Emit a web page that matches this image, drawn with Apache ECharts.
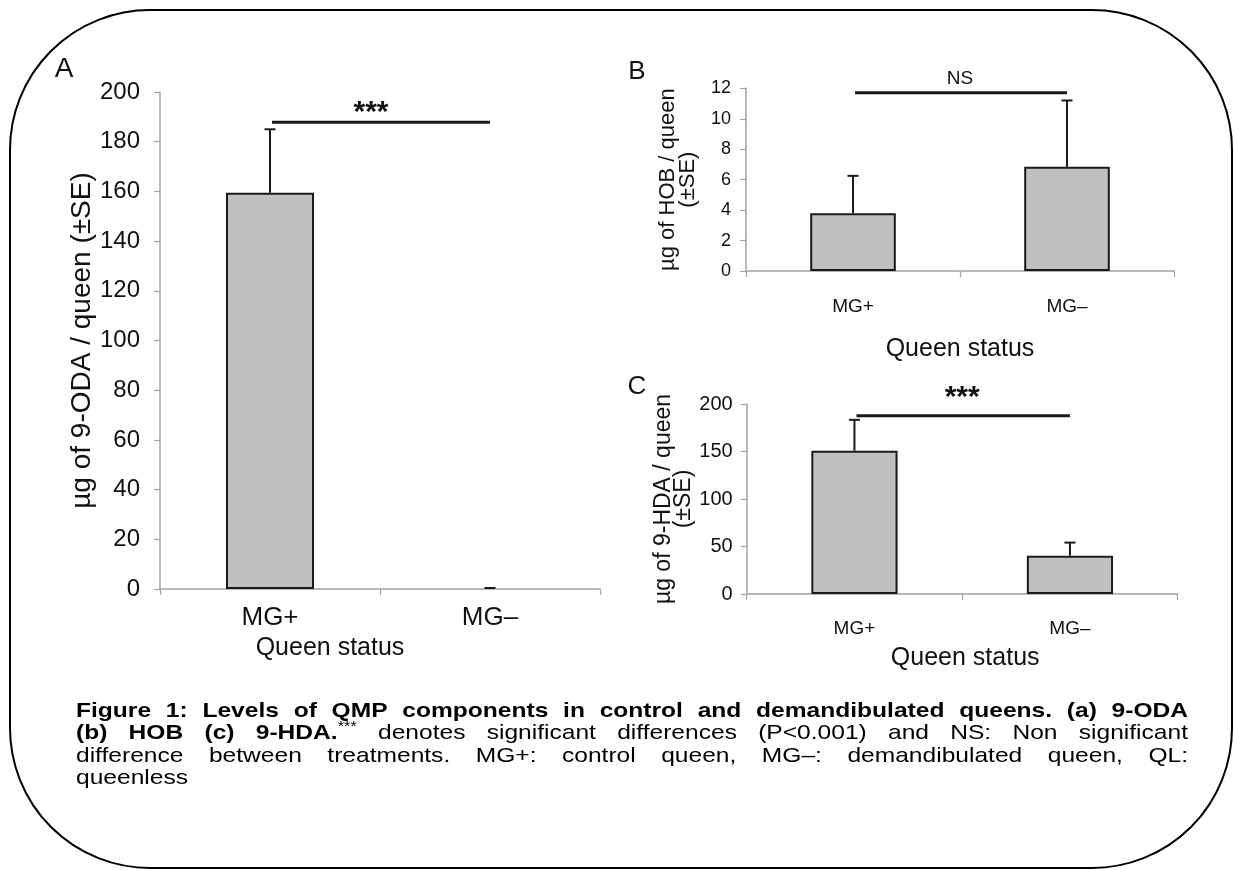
<!DOCTYPE html>
<html><head><meta charset="utf-8">
<script src="https://cdn.jsdelivr.net/npm/echarts@6/dist/echarts.min.js"></script>
<style>html,body{margin:0;padding:0;background:#fff}#c{width:1233px;height:870px}</style>
</head><body><div id="c"></div>
<script>
// ---------- data ----------
const categories = ['MG+', 'MG–'];
const odaMean = [159.5, 0];
const odaSE = [25.5, 0.4];
const hobMean = [3.8, 6.85];
const hobSE = [2.45, 4.35];
const hdaMean = [150.8, 40.3];
const hdaSE = [32.5, 13.8];
const odaAxis = { min: 0, max: 200, interval: 20 };
const hobAxis = { min: 0, max: 12, interval: 2 };
const hdaAxis = { min: 0, max: 200, interval: 50 };
const sigLabels = ['***', 'NS', '***'];
const sigLevels = [187.8, 11.7, 187.7];
const panelLetters = ['A', 'B', 'C'];
const yNames = ['µg of 9-ODA / queen (±SE)', 'µg of HOB / queen\n(±SE)', 'µg of 9-HDA / queen\n(±SE)'];
const xName = 'Queen status';
const captionLine1 = [{ t: 'Figure 1: Levels of QMP components in control and demandibulated queens. (a) 9-ODA', b: true }];
const captionLine2 = [{ t: '(b) HOB (c) 9-HDA.', b: true }, { t: '***', sup: true }, { t: ' denotes significant differences (P<0.001) and NS: Non significant' }];
const captionLine3 = [{ t: 'difference between treatments. MG+: control queen, MG–: demandibulated queen, QL:' }];
const captionLine4 = [{ t: 'queenless' }];

// ---------- styling ----------
const FONT = '"Liberation Sans", Arial, Helvetica, sans-serif';
const AXIS_GRAY = '#a3a3a3';
const BAR_FILL = '#c0c0c0';
const INK = '#1a1a1a';

const grids = [
  { left: 160, top: 92, width: 440, height: 497 },
  { left: 746, top: 88.3, width: 428, height: 182.7 },
  { left: 746.7, top: 404, width: 431, height: 190 }
];
const tickFont = [24, 18, 20];
const catFont = [26, 19, 19];
const catMargin = [16, 26, 25];
const yLabelMargin = [20, 15, 14];
const yNameFont = [28, 22, 23];
const yNameGap = [62, 48, 52];
const xNameFont = [25, 25, 25];
const xNameGap = [40, 66, 52];
const xNamePad = [[0, 100, 0, 0], [0, 0, 0, 0], [0, 0, 0, 6]];
const sigFont = ['bold 30px ' + FONT, '19px ' + FONT, 'bold 30px ' + FONT];
const sigTextDy = [5, -4.7, -2.7];
const sigTextDx = [-9, 0, 0];
const axes = [odaAxis, hobAxis, hdaAxis];
const means = [odaMean, hobMean, hdaMean];
const ses = [odaSE, hobSE, hdaSE];

const xAxis = [], yAxis = [], series = [];
for (let k = 0; k < 3; k++) {
  xAxis.push({
    type: 'category', gridIndex: k, data: categories,
    axisLine: { lineStyle: { color: AXIS_GRAY, width: 1.5 } },
    axisTick: { show: true, length: 6, lineStyle: { color: AXIS_GRAY, width: 1.2 } },
    axisLabel: { color: '#111', fontFamily: FONT, fontSize: catFont[k], margin: catMargin[k] },
    name: xName, nameLocation: 'middle', nameGap: xNameGap[k],
    nameTextStyle: { color: '#111', fontFamily: FONT, fontSize: xNameFont[k], padding: xNamePad[k], verticalAlign: 'top' }
  });
  yAxis.push({
    type: 'value', gridIndex: k, min: axes[k].min, max: axes[k].max, interval: axes[k].interval,
    splitLine: { show: false },
    axisLine: { show: true, lineStyle: { color: AXIS_GRAY, width: 1.5 } },
    axisTick: { show: true, length: 6, lineStyle: { color: AXIS_GRAY, width: 1.2 } },
    axisLabel: { color: '#111', fontFamily: FONT, fontSize: tickFont[k], margin: yLabelMargin[k] },
    name: yNames[k], nameLocation: 'middle', nameRotate: 90, nameGap: yNameGap[k],
    nameTextStyle: { color: '#111', fontFamily: FONT, fontSize: yNameFont[k], lineHeight: 20, align: 'center' }
  });
  series.push({
    type: 'bar', xAxisIndex: k, yAxisIndex: k, barWidth: '40%',
    data: means[k].map(v => v === 0 ? { value: v, itemStyle: { borderWidth: 0 } } : v),
    itemStyle: { color: BAR_FILL, borderColor: INK, borderWidth: 2 },
    silent: true, animation: false
  });
  series.push({
    type: 'custom', xAxisIndex: k, yAxisIndex: k, z: 5, animation: false, silent: true,
    data: means[k].map((m, i) => [i, m, ses[k][i]]),
    renderItem: function (params, api) {
      const base = api.coord([api.value(0), api.value(1)]);
      const top = api.coord([api.value(0), api.value(1) + api.value(2)]);
      const st = { stroke: INK, lineWidth: 2 };
      return { type: 'group', children: [
        { type: 'line', shape: { x1: base[0], y1: base[1], x2: base[0], y2: top[1] }, style: st },
        { type: 'line', shape: { x1: base[0] - 5.5, y1: top[1], x2: base[0] + 5.5, y2: top[1] }, style: st }
      ] };
    }
  });
  series.push({
    type: 'custom', xAxisIndex: k, yAxisIndex: k, z: 6, animation: false, silent: true, clip: false,
    data: [[0, 1, sigLevels[k]]],
    renderItem: (function (kk) {
      return function (params, api) {
        const p0 = api.coord([api.value(0), api.value(2)]);
        const p1 = api.coord([api.value(1), api.value(2)]);
        return { type: 'group', children: [
          { type: 'line', shape: { x1: p0[0] + 2, y1: p0[1], x2: p1[0], y2: p1[1] }, style: { stroke: INK, lineWidth: 3 } },
          { type: 'text', x: (p0[0] + p1[0]) / 2 + sigTextDx[kk], y: p0[1] + sigTextDy[kk],
            style: { text: sigLabels[kk], font: sigFont[kk], fill: '#111', textAlign: 'center', textVerticalAlign: 'bottom' } }
        ] };
      };
    })(k)
  });
}

// ---------- caption (justified word by word) ----------
const CAP_SIZE = 21;
const CAP_STRETCH = 1.17;
const measureCtx = document.createElement('canvas').getContext('2d');
function capFont(p) {
  return p.sup ? '14px ' + FONT : (p.b ? 'bold ' : '') + CAP_SIZE + 'px ' + FONT;
}
function textW(p) { measureCtx.font = capFont(p); return measureCtx.measureText(p.t).width * CAP_STRETCH; }
function tokenize(segs) {
  const words = []; let cur = [];
  segs.forEach(s => {
    s.t.split(' ').forEach((p, i) => {
      if (i > 0) { if (cur.length) words.push(cur); cur = []; }
      if (p) cur.push({ t: p, b: s.b, sup: s.sup });
    });
  });
  if (cur.length) words.push(cur);
  return words;
}
function layoutLine(segs, y, justify, x0, x1, out) {
  const words = tokenize(segs);
  const widths = words.map(w => w.reduce((a, p) => a + textW(p), 0));
  const total = widths.reduce((a, b) => a + b, 0);
  const gap = justify && words.length > 1 ? (x1 - x0 - total) / (words.length - 1) : textW({ t: ' ' });
  let x = x0;
  words.forEach((w, i) => {
    let px = x;
    w.forEach(p => {
      out.push({ type: 'text', x: px, y: y + (p.sup ? -6 : 0), scaleX: CAP_STRETCH, silent: true,
        style: { text: p.t, font: capFont(p), fill: '#000', textAlign: 'left', textVerticalAlign: 'middle' } });
      px += textW(p);
    });
    x += widths[i] + gap;
  });
}
const graphics = [];
graphics.push({ type: 'rect', silent: true, z: 0,
  shape: { x: 10, y: 10, width: 1222, height: 858, r: 140 },
  style: { fill: 'none', stroke: '#000', lineWidth: 2 } });
const letterPos = [[64, 69, 28], [637, 72, 26], [637, 387, 26]];
panelLetters.forEach((l, i) => graphics.push({ type: 'text', x: letterPos[i][0], y: letterPos[i][1], silent: true,
  style: { text: l, font: letterPos[i][2] + 'px ' + FONT, fill: '#111', textAlign: 'center', textVerticalAlign: 'middle' } }));
layoutLine(captionLine1, 711, true, 76, 1188, graphics);
layoutLine(captionLine2, 733.5, true, 76, 1188, graphics);
layoutLine(captionLine3, 756, true, 76, 1188, graphics);
layoutLine(captionLine4, 778.5, false, 76, 1188, graphics);

const chart = echarts.init(document.getElementById('c'), null, { renderer: 'canvas' });
chart.setOption({
  animation: false,
  backgroundColor: '#fff',
  grid: grids.map(g => Object.assign({ containLabel: false }, g)),
  xAxis: xAxis, yAxis: yAxis, series: series,
  graphic: { elements: graphics }
});
</script></body></html>
